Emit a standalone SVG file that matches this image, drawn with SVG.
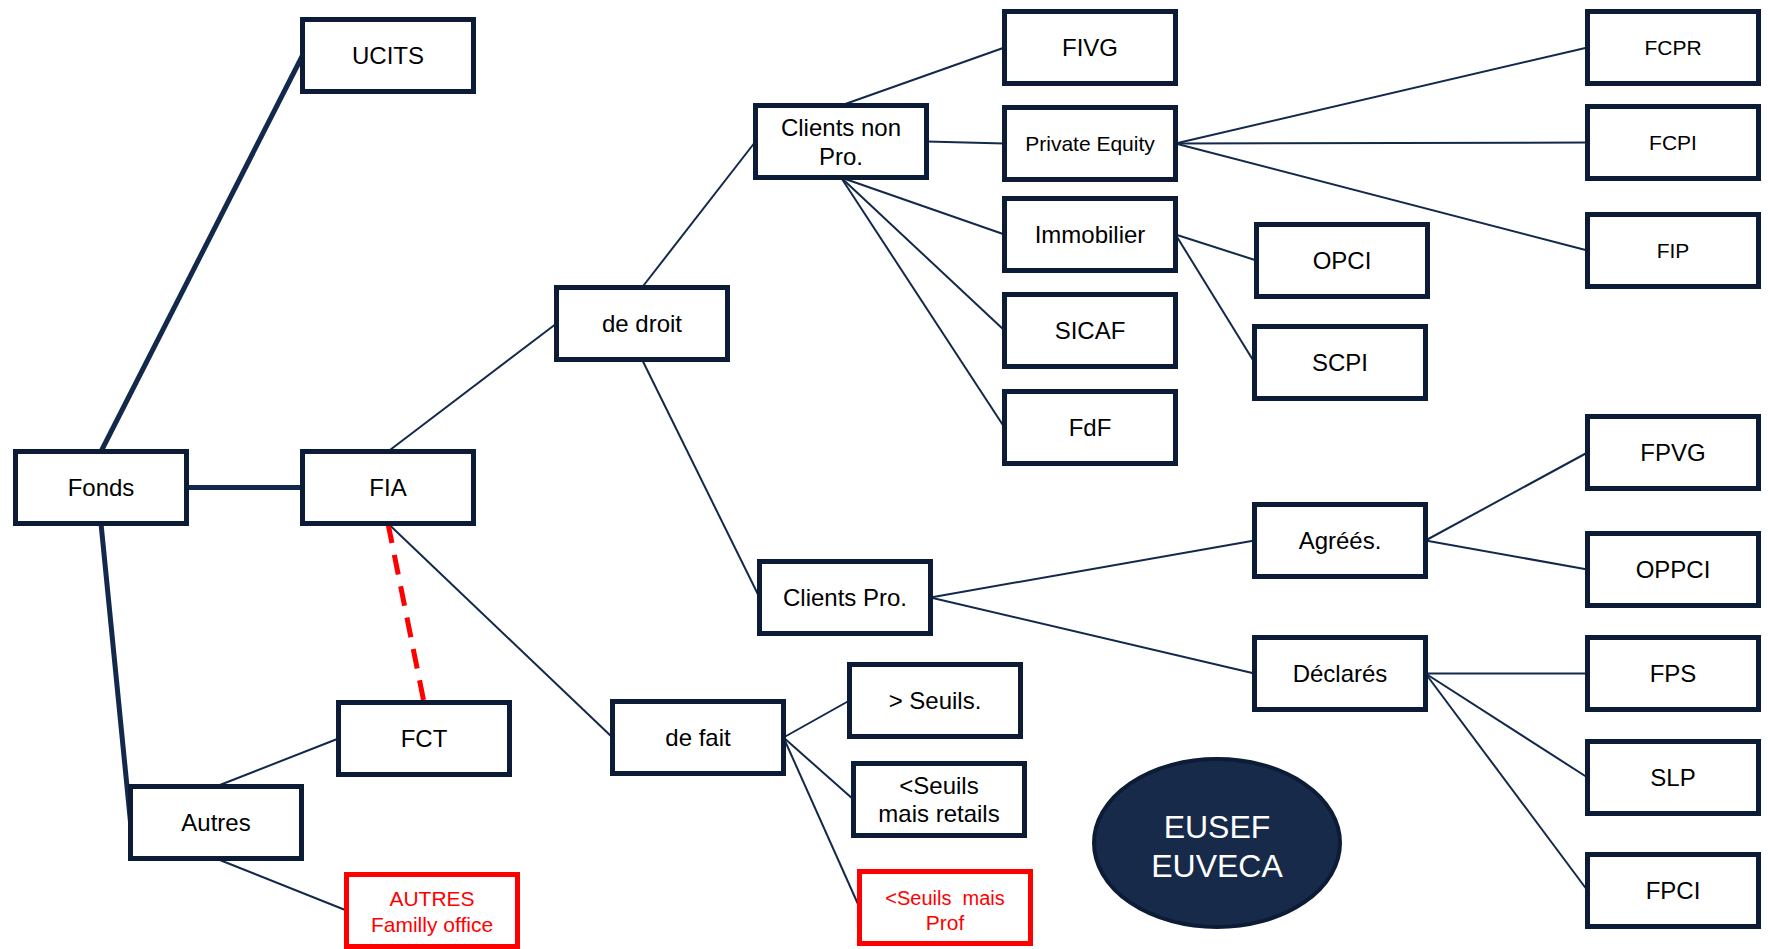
<svg xmlns="http://www.w3.org/2000/svg" width="1768" height="949" viewBox="0 0 1768 949">
<style>
.b rect{fill:#fff;stroke:#0c1c36;stroke-width:5}
.r rect{fill:#fff;stroke:#ff0000;stroke-width:5}
text{font-family:"Liberation Sans",Arial,sans-serif;font-size:24px;fill:#000;text-anchor:middle}
.r text{fill:#ff0000;font-size:21px}
.s{font-size:21px}
#conn line{stroke:#13294b;stroke-width:2}
#conn line.t{stroke-width:5}
#conn line.d{stroke:#ff0000;stroke-width:5;stroke-dasharray:20 12}
</style>
<rect width="1768" height="949" fill="#fff"/>
<g id="conn">
<line class="t" x1="101" y1="451.5" x2="302.5" y2="55.5"/>
<line class="t" x1="186.5" y1="487.5" x2="302.5" y2="487.5"/>
<line class="t" x1="101" y1="523.5" x2="130.5" y2="822"/>
<line x1="388" y1="451.5" x2="556.5" y2="323.5"/>
<line x1="388" y1="523.5" x2="612.5" y2="737.5"/>
<line class="d" x1="388" y1="523.5" x2="424" y2="702.5"/>
<line x1="216" y1="786.5" x2="338.5" y2="738.5"/>
<line x1="216" y1="858.5" x2="346.5" y2="910.5"/>
<line x1="642" y1="287.5" x2="755.5" y2="141.5"/>
<line x1="642" y1="359.5" x2="759.5" y2="597.5"/>
<line x1="841" y1="105.5" x2="1004.5" y2="47.5"/>
<line x1="926.5" y1="141.5" x2="1004.5" y2="143.5"/>
<line x1="841" y1="177.5" x2="1004.5" y2="234.5"/>
<line x1="841" y1="177.5" x2="1004.5" y2="330.5"/>
<line x1="841" y1="177.5" x2="1004.5" y2="427.5"/>
<line x1="1175.5" y1="143.5" x2="1587.5" y2="47.5"/>
<line x1="1175.5" y1="143.5" x2="1587.5" y2="142.5"/>
<line x1="1175.5" y1="143.5" x2="1587.5" y2="250.5"/>
<line x1="1175.5" y1="234.5" x2="1256.5" y2="260.5"/>
<line x1="1175.5" y1="234.5" x2="1254.5" y2="362.5"/>
<line x1="930.5" y1="597.5" x2="1254.5" y2="540.5"/>
<line x1="930.5" y1="597.5" x2="1254.5" y2="673.5"/>
<line x1="1425.5" y1="540.5" x2="1587.5" y2="452.5"/>
<line x1="1425.5" y1="540.5" x2="1587.5" y2="569.5"/>
<line x1="1425.5" y1="673.5" x2="1587.5" y2="673.5"/>
<line x1="1425.5" y1="673.5" x2="1587.5" y2="777.5"/>
<line x1="1425.5" y1="673.5" x2="1587.5" y2="890.5"/>
<line x1="783.5" y1="737.5" x2="849.5" y2="700.5"/>
<line x1="783.5" y1="737.5" x2="853.5" y2="799.5"/>
<line x1="783.5" y1="737.5" x2="859.5" y2="907.5"/>
</g>
<g id="ucits" class="b"><rect x="302.5" y="19.5" width="171" height="72"/><text x="388" y="64">UCITS</text></g>
<g id="fonds" class="b"><rect x="15.5" y="451.5" width="171" height="72"/><text x="101" y="496">Fonds</text></g>
<g id="fia" class="b"><rect x="302.5" y="451.5" width="171" height="72"/><text x="388" y="496">FIA</text></g>
<g id="autres" class="b"><rect x="130.5" y="786.5" width="171" height="72"/><text x="216" y="831">Autres</text></g>
<g id="fct" class="b"><rect x="338.5" y="702.5" width="171" height="72"/><text x="424" y="747">FCT</text></g>
<g id="autres-family" class="r"><rect x="346.5" y="874.5" width="171" height="72"/><text x="432" y="906">AUTRES</text><text x="432" y="932">Familly office</text></g>
<g id="de-droit" class="b"><rect x="556.5" y="287.5" width="171" height="72"/><text x="642" y="332">de droit</text></g>
<g id="de-fait" class="b"><rect x="612.5" y="701.5" width="171" height="72"/><text x="698" y="746">de fait</text></g>
<g id="clients-non-pro" class="b"><rect x="755.5" y="105.5" width="171" height="72"/><text x="841" y="136">Clients non</text><text x="841" y="165">Pro.</text></g>
<g id="clients-pro" class="b"><rect x="759.5" y="561.5" width="171" height="72"/><text x="845" y="606">Clients Pro.</text></g>
<g id="fivg" class="b"><rect x="1004.5" y="11.5" width="171" height="72"/><text x="1090" y="56">FIVG</text></g>
<g id="private-equity" class="b"><rect x="1004.5" y="107.5" width="171" height="72"/><text class="s" x="1090" y="151">Private Equity</text></g>
<g id="immobilier" class="b"><rect x="1004.5" y="198.5" width="171" height="72"/><text x="1090" y="243">Immobilier</text></g>
<g id="sicaf" class="b"><rect x="1004.5" y="294.5" width="171" height="72"/><text x="1090" y="339">SICAF</text></g>
<g id="fdf" class="b"><rect x="1004.5" y="391.5" width="171" height="72"/><text x="1090" y="436">FdF</text></g>
<g id="opci" class="b"><rect x="1256.5" y="224.5" width="171" height="72"/><text x="1342" y="269">OPCI</text></g>
<g id="scpi" class="b"><rect x="1254.5" y="326.5" width="171" height="72"/><text x="1340" y="371">SCPI</text></g>
<g id="fcpr" class="b"><rect x="1587.5" y="11.5" width="171" height="72"/><text class="s" x="1673" y="55">FCPR</text></g>
<g id="fcpi" class="b"><rect x="1587.5" y="106.5" width="171" height="72"/><text class="s" x="1673" y="150">FCPI</text></g>
<g id="fip" class="b"><rect x="1587.5" y="214.5" width="171" height="72"/><text class="s" x="1673" y="258">FIP</text></g>
<g id="fpvg" class="b"><rect x="1587.5" y="416.5" width="171" height="72"/><text x="1673" y="461">FPVG</text></g>
<g id="oppci" class="b"><rect x="1587.5" y="533.5" width="171" height="72"/><text x="1673" y="578">OPPCI</text></g>
<g id="fps" class="b"><rect x="1587.5" y="637.5" width="171" height="72"/><text x="1673" y="682">FPS</text></g>
<g id="slp" class="b"><rect x="1587.5" y="741.5" width="171" height="72"/><text x="1673" y="786">SLP</text></g>
<g id="fpci" class="b"><rect x="1587.5" y="854.5" width="171" height="72"/><text x="1673" y="899">FPCI</text></g>
<g id="agrees" class="b"><rect x="1254.5" y="504.5" width="171" height="72"/><text x="1340" y="549">Agréés.</text></g>
<g id="declares" class="b"><rect x="1254.5" y="637.5" width="171" height="72"/><text x="1340" y="682">Déclarés</text></g>
<g id="sup-seuils" class="b"><rect x="849.5" y="664.5" width="171" height="72"/><text x="935" y="709">&gt; Seuils.</text></g>
<g id="inf-seuils-retails" class="b"><rect x="853.5" y="763.5" width="171" height="72"/><text x="939" y="794">&lt;Seuils</text><text x="939" y="822">mais retails</text></g>
<g id="inf-seuils-prof" class="r"><rect x="859.5" y="871.5" width="171" height="72"/><text x="945" y="905" style="white-space:pre;font-size:20px">&lt;Seuils  mais</text><text x="945" y="930">Prof</text></g>
<g id="eusef-euveca"><ellipse cx="1217" cy="843" rx="123" ry="84" fill="#172a4a" stroke="#0c1c36" stroke-width="4"/><text x="1217" y="838" style="fill:#fff;font-size:32px">EUSEF</text><text x="1217" y="877" style="fill:#fff;font-size:32px">EUVECA</text></g>
</svg>
